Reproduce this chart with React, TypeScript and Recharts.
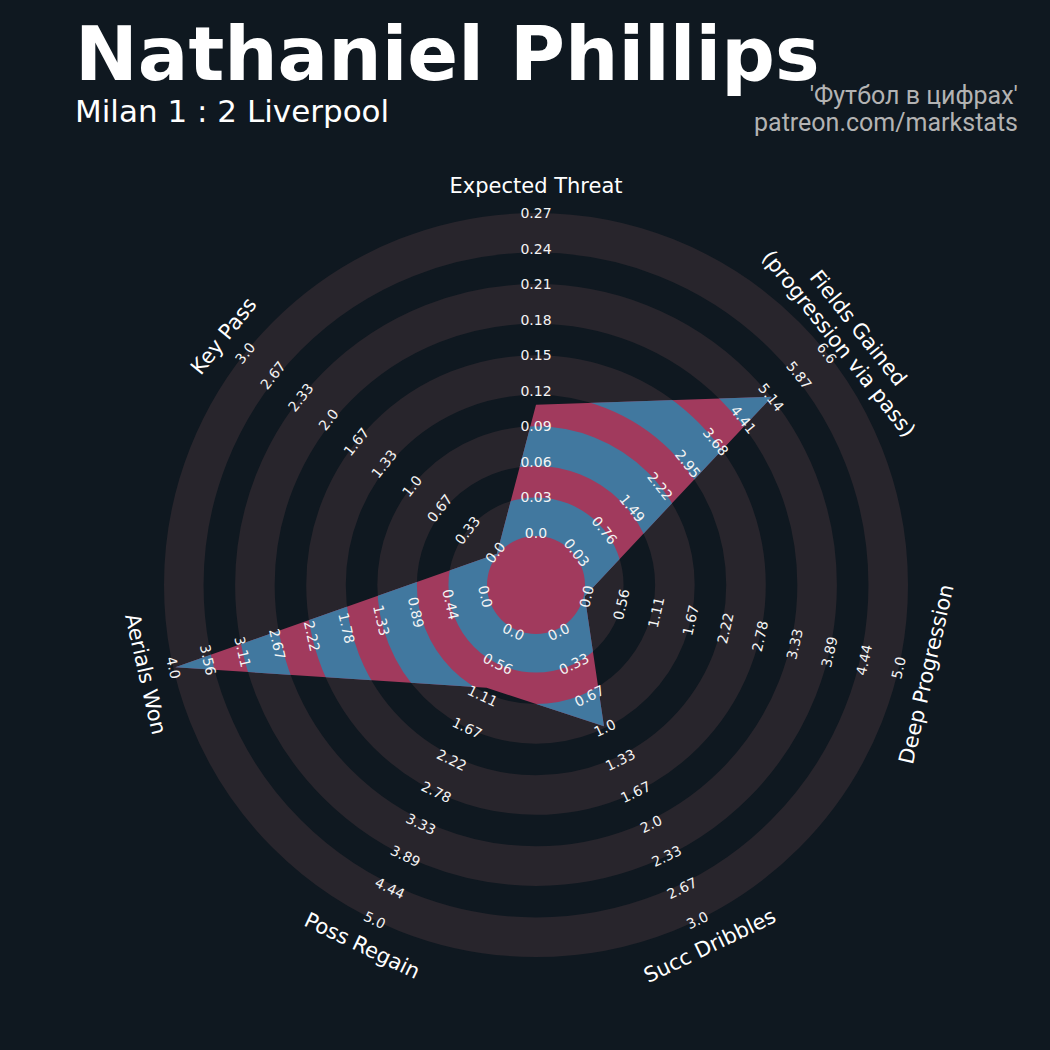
import React from 'react';
import { RadarChart, Radar, PolarGrid, PolarAngleAxis, PolarRadiusAxis } from 'recharts';

// parameters, clockwise from the top
const params = [
    'Expected Threat',
    'Fields Gained\n(progression via pass)',
    'Deep Progression',
    'Succ Dribbles',
    'Poss Regain',
    'Aerials Won',
    'Key Pass',
];
const lowValues = [0, 0.03, 0, 0, 0, 0, 0];
const highValues = [0.27, 6.6, 5.0, 3.0, 5.0, 4.0, 3.0];
const playerValues = [0.11, 5.2, 0.0, 1.0, 1.0, 4.0, 0.0];

const tickLabels: string[][] = [
    ['0.0', '0.03', '0.06', '0.09', '0.12', '0.15', '0.18', '0.21', '0.24', '0.27'],
    ['0.03', '0.76', '1.49', '2.22', '2.95', '3.68', '4.41', '5.14', '5.87', '6.6'],
    ['0.0', '0.56', '1.11', '1.67', '2.22', '2.78', '3.33', '3.89', '4.44', '5.0'],
    ['0.0', '0.33', '0.67', '1.0', '1.33', '1.67', '2.0', '2.33', '2.67', '3.0'],
    ['0.0', '0.56', '1.11', '1.67', '2.22', '2.78', '3.33', '3.89', '4.44', '5.0'],
    ['0.0', '0.44', '0.89', '1.33', '1.78', '2.22', '2.67', '3.11', '3.56', '4.0'],
    ['0.0', '0.33', '0.67', '1.0', '1.33', '1.67', '2.0', '2.33', '2.67', '3.0'],
];

const title = 'Nathaniel Phillips';
const subtitle = 'Milan 1 : 2 Liverpool';
const credits = ["'Футбол в цифрах'", 'patreon.com/markstats'];

const STEPS = 9;
const W = 1050;
const CX = 536;
const CY = 585;
const INNER = 50;
const OUTER = 370;
const STEP_PX = (OUTER - INNER) / STEPS;
const LABEL_R = 400;

const BG = '#0f1820';
const RING = '#28252c';
const RED = '#a13a5d';
const BLUE = '#41789f';

const data = params.map((p, i) => ({
    param: p,
    value: ((playerValues[i] - lowValues[i]) / (highValues[i] - lowValues[i])) * STEPS,
}));

// rings sit on steps [0,1], [2,3] ... [8,9], slightly widened by their edge
const ringRadii = [0, 2, 4, 6, 8].map(k => INNER + (k + 0.5) * STEP_PX);
const RING_W = STEP_PX + 4;

const axisAngle = (i: number) => 90 - (i * 360) / params.length;

// keep text upright like matplotlib does
const readable = (angle: number) => {
    let r = 90 - angle;
    while (r > 180) r -= 360;
    while (r <= -180) r += 360;
    if (r > 90) r -= 180;
    if (r < -90) r += 180;
    return r;
};

// one radius axis gives the tick radius, the label is repeated on every spoke
const RadiusTick = (props: any) => {
    const { x, y, payload } = props;
    const step = Math.round(payload.value);
    const r = Math.hypot(x - CX, y - CY) + 2;
    return (
        <g>
            {params.map((_, i) => {
                const label = tickLabels[i][step];
                if (label === undefined) return null;
                const a = (axisAngle(i) * Math.PI) / 180;
                const tx = CX + r * Math.cos(a);
                const ty = CY - r * Math.sin(a);
                return (
                    <text
                        key={i}
                        x={tx}
                        y={ty}
                        transform={`rotate(${readable(axisAngle(i))}, ${tx}, ${ty})`}
                        textAnchor="middle"
                        dominantBaseline="central"
                        fill="#f4f4f4"
                        fontSize={14}
                        fontFamily="DejaVu Sans"
                    >
                        {label}
                    </text>
                );
            })}
        </g>
    );
};

const AngleTick = (props: any) => {
    const { payload } = props;
    const angle = payload.coordinate;
    const rad = (angle * Math.PI) / 180;
    const x = CX + LABEL_R * Math.cos(rad);
    const y = CY - LABEL_R * Math.sin(rad);
    const lines = String(payload.value).split('\n');
    const lh = 25;
    return (
        <text
            transform={`translate(${x},${y}) rotate(${readable(angle)})`}
            textAnchor="middle"
            fill="#ffffff"
            fontSize={21}
            fontFamily="DejaVu Sans"
        >
            {lines.map((ln, i) => (
                <tspan key={i} x={0} y={(i - (lines.length - 1) / 2) * lh + 7.5}>{ln}</tspan>
            ))}
        </text>
    );
};

const RadarShape = (props: any) => {
    const pts = props.points || [];
    if (!pts.length) return <g />;
    const cx = pts[0].cx ?? CX;
    const cy = pts[0].cy ?? CY;
    const d = pts.map((p: any, i: number) => `${i ? 'L' : 'M'}${p.x},${p.y}`).join(' ') + 'Z';
    return (
        <g>
            <defs>
                <clipPath id="radar-clip">
                    <path d={d} />
                </clipPath>
            </defs>
            <path d={d} fill={RED} />
            <g clipPath="url(#radar-clip)">
                {ringRadii.map(r => (
                    <circle key={r} cx={cx} cy={cy} r={r} fill="none" stroke={BLUE} strokeWidth={RING_W} />
                ))}
            </g>
            <circle cx={cx} cy={cy} r={INNER - 1} fill={RED} />
        </g>
    );
};

export default function App() {
    return (
        <div style={{ position: 'absolute', left: 0, top: 0, width: W, height: W, background: BG }}>
            <RadarChart
                width={W}
                height={W}
                data={data}
                cx={CX}
                cy={CY}
                innerRadius={INNER}
                outerRadius={OUTER}
                margin={{ top: 0, right: 0, bottom: 0, left: 0 }}
            >
                <PolarGrid
                    gridType="circle"
                    radialLines={false}
                    polarRadius={ringRadii}
                    stroke={RING}
                    strokeWidth={RING_W}
                />
                <PolarAngleAxis dataKey="param" axisLine={false} tickLine={false} tick={AngleTick} />
                <PolarRadiusAxis
                    angle={90}
                    type="number"
                    domain={[0, STEPS]}
                    tickCount={STEPS + 1}
                    axisLine={false}
                    tickLine={false}
                    tick={RadiusTick}
                />
                <Radar dataKey="value" shape={RadarShape} isAnimationActive={false} />
            </RadarChart>
            <svg
                width={W}
                height={W}
                style={{ position: 'absolute', left: 0, top: 0, pointerEvents: 'none' }}
            >
                <text x={75} y={80} fill="#ffffff" fontSize={75} fontWeight="bold" fontFamily="DejaVu Sans">{title}</text>
                <text x={75} y={122} fill="#ffffff" fontSize={31} fontFamily="DejaVu Sans">{subtitle}</text>
                <text x={1018} y={104} textAnchor="end" fill="#b3b3b3" fontSize={25} fontFamily="Roboto">{credits[0]}</text>
                <text x={1018} y={131} textAnchor="end" fill="#b3b3b3" fontSize={25} fontFamily="Roboto">{credits[1]}</text>
            </svg>
        </div>
    );
}
